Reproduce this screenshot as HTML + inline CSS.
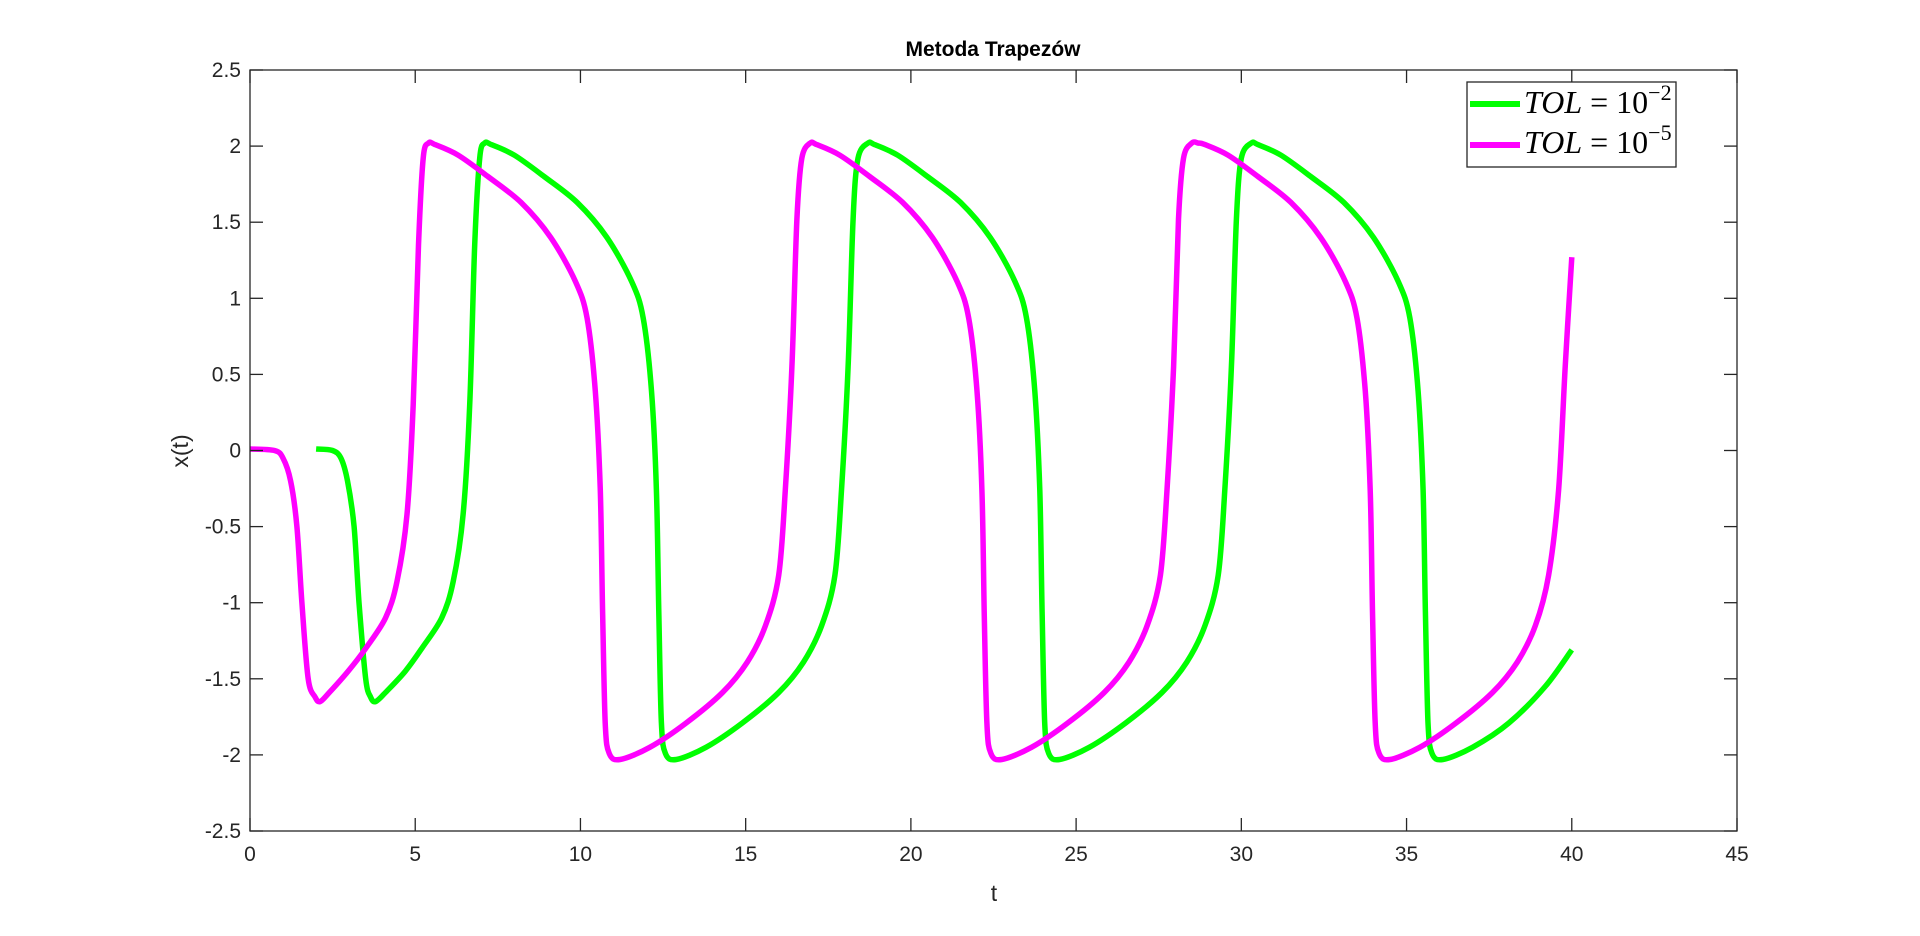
<!DOCTYPE html>
<html><head><meta charset="utf-8"><style>
html,body{margin:0;padding:0;background:#fff;width:1920px;height:936px;overflow:hidden}
svg text{font-family:"Liberation Sans",Arial,sans-serif;fill:#262626}
</style></head><body>
<svg id="chart" width="1920" height="936" xmlns="http://www.w3.org/2000/svg">
<rect x="0" y="0" width="1920" height="936" fill="#fff"/>
<g id="plot"></g>
<g id="axes"></g>
<text x="993" y="56" text-anchor="middle" font-size="21" font-weight="bold" style="fill:#000">Metoda Trapezów</text>
<text x="994" y="901" text-anchor="middle" font-size="23">t</text>
<text transform="translate(188,451) rotate(-90)" text-anchor="middle" font-size="23">x(t)</text>
<g>
<rect x="1467" y="82" width="209" height="85" fill="#fff" stroke="#262626" stroke-width="1.3"/>
<line x1="1470" y1="104" x2="1520" y2="104" stroke="#00ff00" stroke-width="6"/>
<text x="1524" y="113" font-size="32" style="fill:#000;font-family:'Liberation Serif',serif"><tspan font-style="italic">TOL</tspan> = 10<tspan dy="-13" font-size="22">−2</tspan></text>
<line x1="1470" y1="145" x2="1520" y2="145" stroke="#ff00ff" stroke-width="6"/>
<text x="1524" y="153" font-size="32" style="fill:#000;font-family:'Liberation Serif',serif"><tspan font-style="italic">TOL</tspan> = 10<tspan dy="-13" font-size="22">−5</tspan></text>
</g>
</svg>
<script>
const xTicks = [0,5,10,15,20,25,30,35,40,45];
const yTicks = [-2.5,-2,-1.5,-1,-0.5,0,0.5,1,1.5,2,2.5];
const tMagenta = [0,0.74,1.0,1.23,1.42,1.57,1.76,1.97,2.12,2.4,2.97,3.5,4.1,4.45,4.75,4.94,5.1,5.24,5.4,5.6,6.3,7.2,8.2,9.1,9.85,10.2,10.45,10.6,10.67,10.75,10.87,11.2,12.1,13.2,14.3,15.05,15.6,16.0,16.2,16.4,16.55,16.7,16.95,17.15,17.85,18.75,19.75,20.65,21.4,21.75,22.0,22.15,22.22,22.3,22.42,22.75,23.65,24.75,25.85,26.6,27.15,27.55,27.75,27.95,28.1,28.25,28.5,28.7,28.9,29.6,30.5,31.5,32.4,33.15,33.5,33.75,33.9,33.97,34.05,34.17,34.5,35.4,36.5,37.6,38.35,38.9,39.3,39.6,39.8,40.0];
const xMagenta = [0.01,0,-0.05,-0.2,-0.5,-1.0,-1.5,-1.62,-1.65,-1.59,-1.45,-1.3,-1.1,-0.86,-0.42,0.3,1.35,1.92,2.02,2.01,1.94,1.8,1.63,1.4,1.11,0.87,0.39,-0.26,-1.06,-1.79,-1.99,-2.03,-1.95,-1.79,-1.59,-1.39,-1.15,-0.82,-0.26,0.55,1.52,1.92,2.02,2.01,1.94,1.8,1.63,1.4,1.11,0.87,0.39,-0.26,-1.06,-1.79,-1.99,-2.03,-1.95,-1.79,-1.59,-1.39,-1.15,-0.82,-0.26,0.55,1.52,1.92,2.02,2.02,2.01,1.94,1.8,1.63,1.4,1.11,0.87,0.39,-0.26,-1.06,-1.79,-1.99,-2.03,-1.95,-1.79,-1.59,-1.39,-1.15,-0.82,-0.26,0.55,1.27];
const tGreen = [2.0,2.5,2.75,2.95,3.15,3.3,3.5,3.65,3.8,4.1,4.7,5.2,5.8,6.15,6.45,6.65,6.8,6.95,7.1,7.3,8.0,8.9,9.9,10.8,11.55,11.9,12.15,12.3,12.37,12.45,12.57,12.9,13.8,14.9,16.0,16.75,17.3,17.7,17.9,18.1,18.25,18.4,18.7,18.9,19.6,20.5,21.5,22.4,23.15,23.5,23.75,23.9,23.97,24.05,24.17,24.5,25.4,26.5,27.6,28.35,28.9,29.3,29.5,29.7,29.85,30.0,30.3,30.5,31.2,32.1,33.1,34.0,34.75,35.1,35.35,35.5,35.57,35.65,35.77,36.1,37.0,38.1,39.2,40.0];
const xGreen = [0.01,0,-0.05,-0.2,-0.5,-1.0,-1.5,-1.62,-1.65,-1.59,-1.45,-1.3,-1.1,-0.86,-0.42,0.3,1.35,1.92,2.02,2.01,1.94,1.8,1.63,1.4,1.11,0.87,0.39,-0.26,-1.06,-1.79,-1.99,-2.03,-1.95,-1.79,-1.59,-1.39,-1.15,-0.82,-0.26,0.55,1.52,1.92,2.02,2.01,1.94,1.8,1.63,1.4,1.11,0.87,0.39,-0.26,-1.06,-1.79,-1.99,-2.03,-1.95,-1.79,-1.59,-1.39,-1.15,-0.82,-0.26,0.55,1.52,1.92,2.02,2.01,1.94,1.8,1.63,1.4,1.11,0.87,0.39,-0.26,-1.06,-1.79,-1.99,-2.03,-1.95,-1.79,-1.55,-1.31];

const L=250,R=1737,T=70,B=831;
const xMin=0,xMax=45,yMin=-2.5,yMax=2.5;
function sx(v){return L+(v-xMin)/(xMax-xMin)*(R-L);}
function sy(v){return B-(v-yMin)/(yMax-yMin)*(B-T);}
const NS='http://www.w3.org/2000/svg';
const plot=document.getElementById('plot');
const axes=document.getElementById('axes');
function mk(tag,attrs,parent){const e=document.createElementNS(NS,tag);for(const k in attrs)e.setAttribute(k,attrs[k]);parent.appendChild(e);return e;}

function smoothPath(ts,xs){
  const P=ts.map((t,i)=>[sx(t),sy(xs[i])]);
  let d='M'+P[0][0].toFixed(1)+' '+P[0][1].toFixed(1);
  const k=0.16;
  for(let i=0;i<P.length-1;i++){
    const p0=P[Math.max(0,i-1)],p1=P[i],p2=P[i+1],p3=P[Math.min(P.length-1,i+2)];
    const c1=[p1[0]+(p2[0]-p0[0])*k,p1[1]+(p2[1]-p0[1])*k];
    const c2=[p2[0]-(p3[0]-p1[0])*k,p2[1]-(p3[1]-p1[1])*k];
    d+=' C'+c1[0].toFixed(1)+' '+c1[1].toFixed(1)+' '+c2[0].toFixed(1)+' '+c2[1].toFixed(1)+' '+p2[0].toFixed(1)+' '+p2[1].toFixed(1);
  }
  return d;
}
function drawSeries(ts,xs,color,name){
  const p=mk('path',{d:smoothPath(ts,xs),fill:'none',stroke:color,'stroke-width':5.5,'stroke-linejoin':'round','stroke-linecap':'butt'},plot);
  
  
}
drawSeries(tGreen,xGreen,'#00ff00','series-tol-1e-2');
drawSeries(tMagenta,xMagenta,'#ff00ff','series-tol-1e-5');

const box=mk('rect',{x:L,y:T,width:R-L,height:B-T,fill:'none',stroke:'#262626','stroke-width':1.3},axes);


const tl=13;
xTicks.forEach(v=>{
  const x=sx(v);
  const g=mk('g',{},axes);
  
  
  mk('line',{x1:x,y1:B,x2:x,y2:B-tl,stroke:'#262626','stroke-width':1.3},g);
  mk('line',{x1:x,y1:T,x2:x,y2:T+tl,stroke:'#262626','stroke-width':1.3},g);
  const t=mk('text',{x:x,y:B+30,'text-anchor':'middle','font-size':21},g);
  t.textContent=String(v);
  
  
});
yTicks.forEach(v=>{
  const y=sy(v);
  const g=mk('g',{},axes);
  
  
  mk('line',{x1:L,y1:y,x2:L+tl,y2:y,stroke:'#262626','stroke-width':1.3},g);
  mk('line',{x1:R,y1:y,x2:R-tl,y2:y,stroke:'#262626','stroke-width':1.3},g);
  const t=mk('text',{x:L-9,y:y+7,'text-anchor':'end','font-size':21},g);
  t.textContent=String(v);
  
  
});
</script>
</body></html>
